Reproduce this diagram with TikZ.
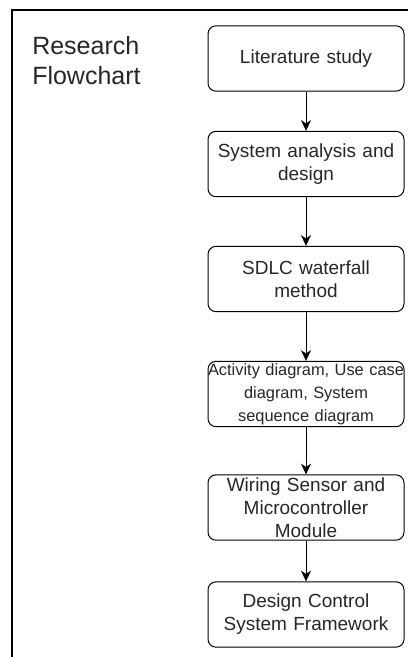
\documentclass[tikz,border=0pt]{standalone}
\usepackage{fontspec}
\setmainfont{Liberation Sans}
\usetikzlibrary{arrows.meta}
\definecolor{txt}{HTML}{262626}
\begin{document}
\begin{tikzpicture}[x=0.75pt,y=-0.75pt,
  stepbox/.style={draw, line width=0.75pt, rounded corners=6pt,
    minimum width=147pt, minimum height=49pt, inner sep=0pt,
    align=center, text width=147pt, text=txt,
    font=\fontsize{14.25pt}{17.25pt}\selectfont},
  smalltext/.style={font=\fontsize{12.3pt}{17.25pt}\selectfont},
  flow/.style={-{Stealth[length=8pt,width=7.5pt,inset=2.5pt]}, line width=0.75pt},
  titletext/.style={anchor=north west, inner sep=0pt, align=left, text=txt,
    font=\fontsize{18.75pt}{22.5pt}\selectfont}]
\useasboundingbox (0,0) rectangle (408,657);
\draw[line width=1pt] (408,10) -- (12,10) -- (12,657);
\node[titletext] (title) at (32,36) {Research\\Flowchart};
\node[stepbox] (b1) at (306,58.5) {Literature study};
\node[stepbox] (b2) at (306,164) {System analysis and\\design};
\node[stepbox] (b3) at (306,279) {SDLC waterfall\\method};
\node[stepbox, smalltext] (b4) at (306,394) {Activity diagram, Use case\\diagram, System\\sequence diagram};
\node[stepbox] (b5) at (306,507.5) {Wiring Sensor and\\Microcontroller\\Module};
\node[stepbox] (b6) at (306,614.5) {Design Control\\System Framework};
\draw[flow] (b1) -- (b2);
\draw[flow] (b2) -- (b3);
\draw[flow] (b3) -- (b4);
\draw[flow] (b4) -- (b5);
\draw[flow] (b5) -- (b6);
\end{tikzpicture}
\end{document}
